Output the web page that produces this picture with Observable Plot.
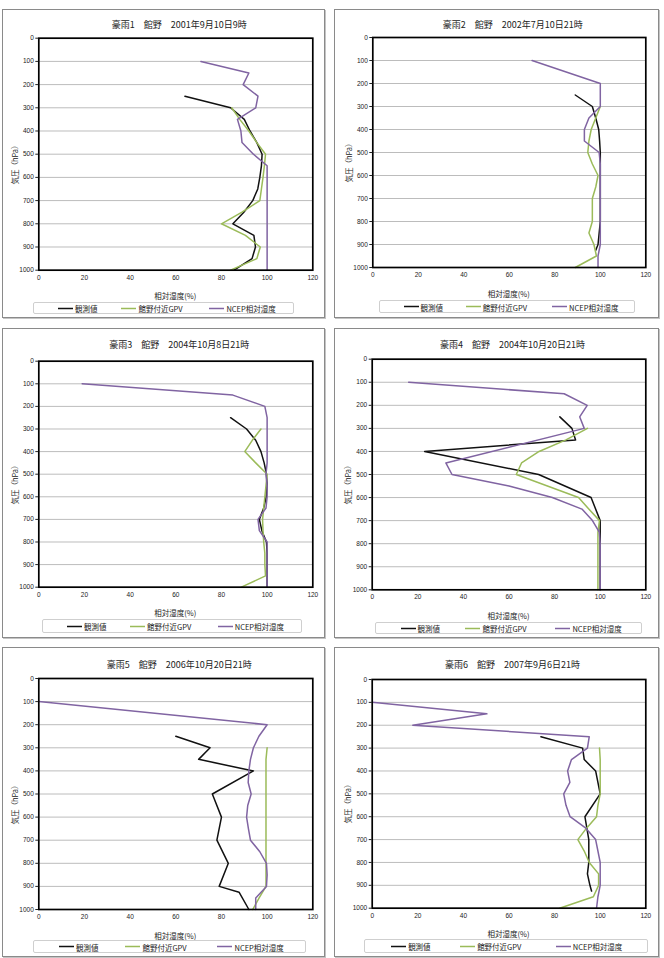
<!DOCTYPE html>
<html>
<head>
<meta charset="utf-8">
<script src="https://cdn.jsdelivr.net/npm/d3@7"></script>
<script src="https://cdn.jsdelivr.net/npm/@observablehq/plot@0.6"></script>
<style>
  body { margin: 0; background: #fff; }
  #page { position: relative; width: 664px; height: 958px; font-family: "Noto Sans CJK JP", sans-serif; color: #222; overflow: hidden; }
  .box { position: absolute; border: 1px solid #8a8a8a; box-shadow: 1px 1px 0 #c4c4c4; box-sizing: border-box; background: #fff; }
  .title { position: absolute; font-size: 9px; white-space: nowrap; transform: translate(-50%, -50%); }
  .xlab { position: absolute; font-size: 7.5px; white-space: nowrap; transform: translate(-50%, -50%); }
  .ylab { position: absolute; font-size: 7.5px; white-space: nowrap; transform: translate(-50%, -50%) rotate(-90deg); }
  .legend { position: absolute; border: 1px solid #cfcfcf; border-radius: 2px; box-sizing: border-box; background: #fff; }
  .entry { position: absolute; top: 50%; transform: translateY(-50%); font-size: 7.5px; white-space: nowrap; display: flex; align-items: center; }
  .swatch { display: block; margin-right: 2px; }
</style>
</head>
<body>
<div id="page"></div>
<script>
// Pressure levels (hPa) shared by every profile; null = no value at that level
const levels = [100, 150, 200, 250, 300, 350, 400, 450, 500, 550, 600, 650, 700, 750, 800, 850, 900, 925, 950, 1000];
const xTicks = [0, 20, 40, 60, 80, 100, 120];
const yTicks = [0, 100, 200, 300, 400, 500, 600, 700, 800, 900, 1000];

const titles = [
  "豪雨1　館野　2001年9月10日9時",
  "豪雨2　館野　2002年7月10日21時",
  "豪雨3　館野　2004年10月8日21時",
  "豪雨4　館野　2004年10月20日21時",
  "豪雨5　館野　2006年10月20日21時",
  "豪雨6　館野　2007年9月6日21時"
];
const seriesNames = ["観測値", "館野付近GPV", "NCEP相対湿度"];
const xLabel = "相対湿度(%)";
const yLabel = "気圧（hPa）";

// Relative humidity (%) per level: observed, GPV near Tateno, NCEP
const obs1  = [null, null, null, 64, 84, 90, 92.5, 95.5, 97.8, 97.5, 96.8, 95.9, 93.7, 89.8, 85, 94.2, 94.9, null, 93.4, 85.5];
const gpv1  = [null, null, null, null, 84.5, 88, 92, 95.5, 99.3, 98.8, 98.2, 97.5, 96.8, 89, 80, 90.5, 97, null, 95.5, 84];
const ncep1 = [71, 92, 89.5, 96, 95, 87, 88.5, 89, 94, 100, 100, 100, 100, 100, 100, 100, 100, null, 100, 100];

const obs2  = [null, null, null, 89, 96.5, 98, 99.3, 99.7, 100, 100, 100, 100, 100, 100, 100, 99.5, 99, 98, null, null];
const gpv2  = [null, null, null, null, 100, 98, 96, 95, 94.5, 96.5, 99, 98, 96.5, 96.5, 96.5, 95, 97.2, null, 98.3, 89];
const ncep2 = [70, null, 100, 100, 100, 95, 93, 93, 99.5, 100, 100, 100, 100, 100, 100, 100, 100, null, 99, 99];

const obs3  = [null, null, null, 84, 91, 95, 97.3, 98.7, 99.7, 100, 99.6, 98.5, 96.6, 97.7, 99.7, 100, 100, null, 100, 100];
const gpv3  = [null, null, null, null, 97.3, 93.5, 90.2, 95, 100, 99.5, 99, 98.5, 98, 98.2, 98.5, 99, 99, null, 99.3, 88.7];
const ncep3 = [19, 85, 99, 100, 100, 100, 100, 100, 99.5, 100, 100, 99.5, 96, 96.6, 100, 100, 100, null, 100, 100];

const obs4  = [null, null, null, 82.3, 87.6, 89.2, 23, null, 73, null, 96, null, 100, 100, 100, 100, 100, null, 100, 100];
const gpv4  = [null, null, null, null, 94.4, 85, 73.2, 65.5, 63.2, null, 90.5, 95, 99.7, 99, 99, 99, 99, null, 99, 99];
const ncep4 = [16, 84.2, 94.3, 91, 93, null, null, 32.3, 35, 60, 79, 92, 96.6, 99.6, 100, 100, 100, null, 100, 100];

const obs5  = [null, null, null, 60, 75, 70, 94, null, 76, null, 80, null, 78, null, 83, null, 79, 87.7, null, 92];
const gpv5  = [null, null, null, null, 100, 99.5, 99.5, 99.5, 99.5, 99.5, 99.5, 99.5, 99.5, 99.5, 99.5, 99.5, 99.5, null, 96.5, 93.7];
const ncep5 = [0, null, 100, 96.4, 94, 92.7, 92, 91.7, 93, 91.5, 91, 91.8, 92.7, 96.8, 99.7, 100, 99.7, null, 95, 95];

const obs6  = [null, null, null, 74, 92.3, 93, 98, null, 100, null, 93.3, null, 95, null, 95, 94.4, 95.5, 96.2, null, null];
const gpv6  = [null, null, null, null, 99.7, 100, 100, 100, 100, 99, 98.4, 94, 90.2, 93, 95.2, 99.3, 99.3, null, 97, 82.2];
const ncep6 = [0, 50.3, 17.8, 95.2, 94.4, 87.4, 85.7, 86.7, 84, 85, 86.8, 93.7, 98, 99, 100, 100, 100, null, 99, 98.4];

const profiles = [
  [obs1, gpv1, ncep1], [obs2, gpv2, ncep2], [obs3, gpv3, ncep3],
  [obs4, gpv4, ncep4], [obs5, gpv5, ncep5], [obs6, gpv6, ncep6]
];

// Page layout: outer box, plot frame and legend box (x0, y0, x1, y1), title centre line
const layout = [
  { box: [2, 9, 325, 318],   frame: [38.3, 37.7, 312.3, 269.7],  legend: [33, 302, 294, 314],  titleY: 24.3 },
  { box: [334, 9, 659, 318], frame: [372.3, 37, 645.3, 267],     legend: [379, 300, 635, 313], titleY: 24 },
  { box: [2, 328, 325, 638], frame: [38.3, 360.7, 312.3, 586.7], legend: [42, 619, 302, 633],  titleY: 344.3 },
  { box: [334, 328, 659, 638], frame: [371.7, 358.7, 645.3, 589.3], legend: [375, 622, 642, 634], titleY: 344.3 },
  { box: [2, 647, 325, 957], frame: [38.3, 678, 312.3, 909],     legend: [33, 940, 306, 953],  titleY: 664 },
  { box: [334, 647, 659, 957], frame: [371.7, 679, 645.3, 907.7], legend: [364, 939, 648, 953], titleY: 664.3 }
];
const colors = ["#111111", "#9bbb59", "#8064a2"];
const entryPos = [0.092, 0.335, 0.672];

const page = document.getElementById("page");
const SVGNS = "http://www.w3.org/2000/svg";

function addDiv(cls, css, text) {
  const d = document.createElement("div");
  d.className = cls;
  Object.assign(d.style, css);
  if (text != null) d.textContent = text;
  page.appendChild(d);
  return d;
}

function swatch(color) {
  const s = document.createElementNS(SVGNS, "svg");
  s.setAttribute("width", 15);
  s.setAttribute("height", 4);
  s.setAttribute("class", "swatch");
  const l = document.createElementNS(SVGNS, "line");
  l.setAttribute("x1", 0); l.setAttribute("x2", 15);
  l.setAttribute("y1", 2); l.setAttribute("y2", 2);
  l.setAttribute("stroke", color);
  l.setAttribute("stroke-width", 1.6);
  s.appendChild(l);
  return s;
}

layout.forEach((L, i) => {
  const [bx0, by0, bx1, by1] = L.box;
  const [fx0, fy0, fx1, fy1] = L.frame;

  addDiv("box", { left: bx0 + "px", top: by0 + "px", width: (bx1 - bx0) + "px", height: (by1 - by0) + "px" });

  const series = profiles[i].map((vals, k) => ({
    k,
    rows: levels.map((p, j) => ({ p, rh: vals[j] })).filter(d => d.rh != null)
  }));

  const svg = Plot.plot({
    width: bx1 - bx0,
    height: fy1 - by0 + 18,
    marginLeft: fx0 - bx0,
    marginRight: bx1 - fx1,
    marginTop: fy0 - by0,
    marginBottom: 18,
    x: { domain: [0, 120], label: null },
    y: { domain: [0, 1000], reverse: true, label: null },
    style: { fontFamily: "'Liberation Sans', 'Noto Sans CJK JP', sans-serif", fontSize: "6.5px", color: "#222", background: "transparent", overflow: "visible" },
    marks: [
      Plot.gridY(yTicks, { stroke: "#bcbcbc", strokeOpacity: 1, strokeWidth: 1 }),
      ...series.map(s => Plot.line(s.rows, { x: "rh", y: "p", stroke: colors[s.k], strokeWidth: 1.5 })),
      Plot.frame({ stroke: "#000", strokeWidth: 1.7 }),
      Plot.axisX(xTicks, { tickSize: 0, tickPadding: 5, tickFormat: d => String(d), label: null }),
      Plot.axisY(yTicks, { tickSize: 3, tickPadding: 2, tickFormat: d => String(d), label: null })
    ]
  });
  svg.style.position = "absolute";
  svg.style.left = bx0 + "px";
  svg.style.top = by0 + "px";
  page.appendChild(svg);

  addDiv("title", { left: ((fx0 + fx1) / 2 + 4) + "px", top: L.titleY + "px" }, titles[i]);
  addDiv("xlab", { left: ((fx0 + fx1) / 2) + "px", top: (fy1 + 25.5) + "px" }, xLabel);
  addDiv("ylab", { left: (fx0 - 24.5) + "px", top: ((fy0 + fy1) / 2 + 9) + "px" }, yLabel);

  const [lx0, ly0, lx1, ly1] = L.legend;
  const leg = addDiv("legend", { left: lx0 + "px", top: ly0 + "px", width: (lx1 - lx0) + "px", height: (ly1 - ly0) + "px" });
  seriesNames.forEach((name, k) => {
    const e = document.createElement("div");
    e.className = "entry";
    e.style.left = ((lx1 - lx0) * entryPos[k]) + "px";
    const t = document.createElement("span");
    t.textContent = name;
    e.appendChild(swatch(colors[k]));
    e.appendChild(t);
    leg.appendChild(e);
  });
});
</script>
</body>
</html>
